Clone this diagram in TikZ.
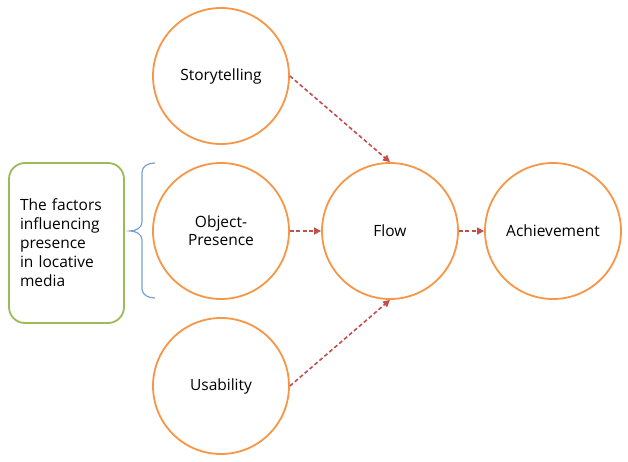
\documentclass[tikz,border=0pt]{standalone}
\usepackage{fontspec}
\setmainfont{Open Sans}
\usetikzlibrary{arrows.meta}
\definecolor{ringorange}{RGB}{247,150,70}
\definecolor{boxgreen}{RGB}{155,187,89}
\definecolor{braceblue}{RGB}{120,160,210}
\definecolor{linkred}{RGB}{192,80,77}
\begin{document}
\begin{tikzpicture}[x=1pt,y=-1pt,
	factor/.style={circle,draw=ringorange,line width=1.8pt,minimum size=136pt,inner sep=0pt,align=center,font=\fontsize{15.5}{18}\selectfont},
	groupbox/.style={draw=boxgreen,line width=1.8pt,rounded corners=16pt,minimum width=115pt,minimum height=160pt,text width=93pt,inner xsep=11pt,align=left,font=\fontsize{15.5}{19}\selectfont},
	link/.style={draw=linkred,line width=1.6pt,dash pattern=on 4pt off 2.5pt,-{Triangle[length=7pt,width=7pt]}},
	bracket/.style={draw=braceblue,line width=1.2pt}]
	\useasboundingbox (0,0) rectangle (628,462);
	% factors
	\node[factor] (story) at (221,76) {Storytelling};
	\node[factor] (object) at (221,231) {Object-\\Presence};
	\node[factor] (usab) at (221,386) {Usability};
	% outcomes
	\node[factor] (flow) at (390,231) {Flow};
	\node[factor] (achieve) at (553,231) {Achievement};
	\node[groupbox] (group) at (66.5,243) {The factors\\influencing\\presence\\in locative\\media};
	% brace
	\draw[bracket] (155,163) to[out=180,in=90] (142,172) -- (142,222) to[out=-90,in=0] (130,231)
		to[out=0,in=90] (142,240) -- (142,289) to[out=-90,in=180] (155,298);
	% links
	\draw[link] (story.east) -- (flow.north);
	\draw[link] (object.east) -- (flow.west);
	\draw[link] (usab.east) -- (flow.south);
	\draw[link] (flow.east) -- (achieve.west);
\end{tikzpicture}
\end{document}
